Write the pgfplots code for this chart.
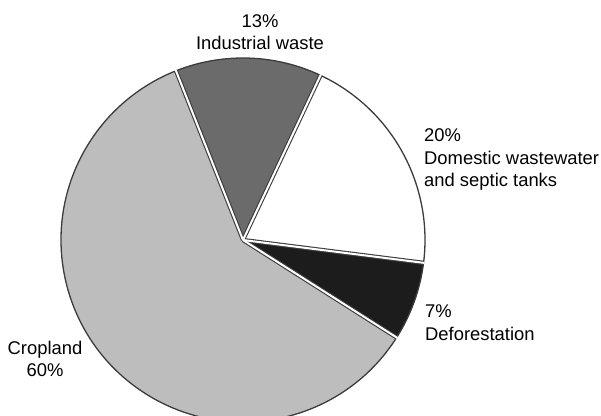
\documentclass[border=0pt]{standalone}
\usepackage{fontspec}
\setmainfont{Liberation Sans}
\usepackage{pgfplots}
\pgfplotsset{compat=1.18}
\definecolor{crop}{HTML}{BDBDBD}
\definecolor{indus}{HTML}{6B6B6B}
\definecolor{domes}{HTML}{FFFFFF}
\definecolor{defor}{HTML}{1C1C1C}
\definecolor{edge}{HTML}{3C3C3C}
\def\pieR{182bp}
\tikzset{lbl/.style={inner sep=0pt, font=\fontsize{18.4bp}{22bp}\selectfont, text=black}}
\begin{document}
\begin{tikzpicture}
\begin{axis}[
    width=601bp, height=416bp, scale only axis,
    xmin=0, xmax=601, ymin=0, ymax=416,
    hide axis, clip=true,
]
% slices clockwise from 111.6 deg, 3.6 deg per percent
% Industrial waste 13%
\filldraw[fill=indus, draw=edge, line width=1.3bp] (axis cs:243,176) -- ++(111.6:\pieR)
    arc[start angle=111.6, delta angle=-13*3.6, radius=\pieR] -- cycle;
% Domestic wastewater and septic tanks 20%
\filldraw[fill=domes, draw=edge, line width=1.3bp] (axis cs:243,176) -- ++(64.8:\pieR)
    arc[start angle=64.8, delta angle=-20*3.6, radius=\pieR] -- cycle;
% Deforestation 7%
\filldraw[fill=defor, draw=edge, line width=1.3bp] (axis cs:243,176) -- ++(-7.2:\pieR)
    arc[start angle=-7.2, delta angle=-7*3.6, radius=\pieR] -- cycle;
% Cropland 60%
\filldraw[fill=crop, draw=edge, line width=1.3bp] (axis cs:243,176) -- ++(-32.4:\pieR)
    arc[start angle=-32.4, delta angle=-60*3.6, radius=\pieR] -- cycle;
% separators between slices
\draw[edge, line width=4.2bp] (axis cs:243,176) -- ++(111.6:\pieR);
\draw[edge, line width=4.2bp] (axis cs:243,176) -- ++(64.8:\pieR);
\draw[edge, line width=4.2bp] (axis cs:243,176) -- ++(-7.2:\pieR);
\draw[edge, line width=4.2bp] (axis cs:243,176) -- ++(-32.4:\pieR);
\draw[white, line width=2bp] (axis cs:243,176) -- ++(111.6:183bp);
\draw[white, line width=2bp] (axis cs:243,176) -- ++(64.8:183bp);
\draw[white, line width=2bp] (axis cs:243,176) -- ++(-7.2:183bp);
\draw[white, line width=2bp] (axis cs:243,176) -- ++(-32.4:183bp);
% labels
\node[lbl, anchor=base] at (axis cs:260,388) {13\%};
\node[lbl, anchor=base] at (axis cs:260,366) {Industrial waste};
\node[lbl, anchor=base west] at (axis cs:424,274) {20\%};
\node[lbl, anchor=base west] at (axis cs:424,251) {Domestic wastewater};
\node[lbl, anchor=base west] at (axis cs:424,229) {and septic tanks};
\node[lbl, anchor=base west] at (axis cs:425,98) {7\%};
\node[lbl, anchor=base west] at (axis cs:425,75) {Deforestation};
\node[lbl, anchor=base] at (axis cs:45,61) {Cropland};
\node[lbl, anchor=base] at (axis cs:45,39) {60\%};
\end{axis}
\pgfresetboundingbox
\path[use as bounding box] (current axis.south west) rectangle (current axis.north east);
\end{tikzpicture}
\end{document}
